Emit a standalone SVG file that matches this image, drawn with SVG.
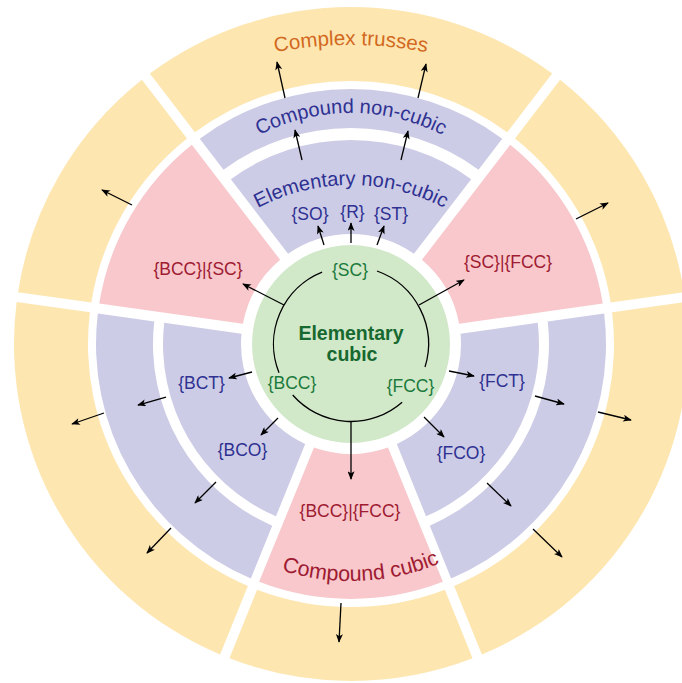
<svg xmlns="http://www.w3.org/2000/svg" width="682" height="683" viewBox="0 0 682 683">
<defs>
<style>
.y{fill:#FDE6B0}
.p{fill:#CDCCE6}
.k{fill:#F8C8CC}
.g{fill:#D1E8C9}
text{font-family:"Liberation Sans",Arial,sans-serif}
.t{font-size:20px}
.l{font-size:17.5px;text-anchor:middle}
.nv{fill:#2E3192}
.rd{fill:#9E1B32}
.gr{fill:#1C7A3C}
.or{fill:#D2691E}
.ar{stroke:#000;stroke-width:1.3;fill:none;marker-end:url(#ah)}
.cy{stroke:#000;stroke-width:1.3;fill:none}
</style>
<marker id="ah" viewBox="0 0 10 8" refX="9" refY="4" markerWidth="9" markerHeight="7" markerUnits="userSpaceOnUse" orient="auto"><path d="M0,0 L10,4 L0,8 L2.5,4 Z" fill="#000"/></marker>
<path id="yT" d="M-201.16,-270.38 A337,337 0 0 1 201.16,-270.38 L156.11,-211.65 A263,263 0 0 0 -156.11,-211.65 Z"/>
<path id="yS" d="M-122.94,-313.77 A337,337 0 0 1 122.94,-313.77 L94.94,-245.27 A263,263 0 0 0 -94.94,-245.27 Z"/>
<path id="yL" d="M-203.50,-268.62 A337,337 0 0 1 203.50,-268.62 L157.95,-210.29 A263,263 0 0 0 -157.95,-210.29 Z"/>
<path id="yB" d="M-121.58,-314.30 A337,337 0 0 1 121.58,-314.30 L93.87,-245.68 A263,263 0 0 0 -93.87,-245.68 Z"/>
<path id="kS" d="M-91.91,-237.86 A255,255 0 0 1 91.91,-237.86 L36.98,-103.60 A110,110 0 0 0 -36.98,-103.60 Z"/>
<path id="pIn" d="M-111.76,-151.17 A188,188 0 0 1 111.76,-151.17 L63.71,-89.67 A110,110 0 0 0 -63.71,-89.67 Z"/>
<path id="pOut" d="M-153.02,-203.98 A255,255 0 0 1 153.02,-203.98 L117.92,-159.05 A198,198 0 0 0 -117.92,-159.05 Z"/>
<path id="arcCT" d="M93.9,138.6 A400,400 0 0 1 608.1,138.6"/>
<path id="arcCN" d="M177.8,213 A200,200 0 0 1 524.2,213"/>
<path id="arcEN" d="M177.8,285 A200,200 0 0 1 524.2,285"/>
<path id="arcCC" d="M151.8,466 A230,230 0 0 0 550.2,466"/>
</defs>

<g id="complex-trusses">
<use href="#yT" class="y" transform="translate(351,344)"/>
<use href="#yS" class="y" transform="translate(351,344) rotate(59.75)"/>
<use href="#yS" class="y" transform="translate(351,344) rotate(-59.75)"/>
<use href="#yL" class="y" transform="translate(351,344) rotate(120)"/>
<use href="#yL" class="y" transform="translate(351,344) rotate(240)"/>
<use href="#yB" class="y" transform="translate(351,344) rotate(180)"/>
<text class="or" font-size="20.5px"><textPath href="#arcCT" startOffset="50%" text-anchor="middle">Complex trusses</textPath></text>
</g>

<g id="compound-non-cubic">
<path class="p" transform="translate(351,344)" d="M-151.24,-205.31 A255,255 0 0 1 151.24,-205.31 L127.49,-174.36 A216,216 0 0 0 -127.49,-174.36 Z"/>
<text class="t nv"><textPath href="#arcCN" startOffset="50%" text-anchor="middle">Compound non-cubic</textPath></text>
</g>

<g id="elementary-non-cubic">
<path class="p" transform="translate(351,344)" d="M-120.19,-164.84 A204,204 0 0 1 120.19,-164.84 L62.93,-90.22 A110,110 0 0 0 -62.93,-90.22 Z"/>
<text class="t nv"><textPath href="#arcEN" startOffset="50%" text-anchor="middle">Elementary non-cubic</textPath></text>
<text class="l nv" x="310" y="220">{SO}</text>
<text class="l nv" x="352.5" y="218">{R}</text>
<text class="l nv" x="391" y="220">{ST}</text>
</g>

<g id="compound-bcc-sc">
<use href="#kS" class="k" transform="translate(351,344) rotate(-59.75)"/>
<text class="l rd" x="198" y="275">{BCC}|{SC}</text>
</g>

<g id="compound-sc-fcc">
<use href="#kS" class="k" transform="translate(351,344) rotate(59.75)"/>
<text class="l rd" x="508" y="268">{SC}|{FCC}</text>
</g>

<g id="compound-cubic">
<use href="#kS" class="k" transform="translate(351,344) rotate(180)"/>
<text class="l rd" x="350" y="517">{BCC}|{FCC}</text>
<text class="rd" font-size="21.5px"><textPath href="#arcCC" startOffset="251" text-anchor="middle">Compound cubic</textPath></text>
</g>

<g id="elementary-bcc-derived">
<use href="#pIn" class="p" transform="translate(351,344) rotate(240)"/>
<text class="l nv" x="201.5" y="389">{BCT}</text>
<text class="l nv" x="242.5" y="456">{BCO}</text>
</g>
<g id="compound-bcc-derived">
<use href="#pOut" class="p" transform="translate(351,344) rotate(240)"/>
</g>

<g id="elementary-fcc-derived">
<use href="#pIn" class="p" transform="translate(351,344) rotate(120)"/>
<text class="l nv" x="502" y="387">{FCT}</text>
<text class="l nv" x="461" y="459">{FCO}</text>
</g>
<g id="compound-fcc-derived">
<use href="#pOut" class="p" transform="translate(351,344) rotate(120)"/>
</g>

<g id="elementary-cubic">
<circle class="g" cx="351" cy="344" r="99"/>
<text x="351" y="340" text-anchor="middle" font-weight="bold" font-size="19.5px" fill="#17692F">Elementary</text>
<text x="352" y="361" text-anchor="middle" font-weight="bold" font-size="19.5px" fill="#17692F">cubic</text>
<text class="l gr" x="350" y="276">{SC}</text>
<text class="l gr" x="292" y="389">{BCC}</text>
<text class="l gr" x="410.5" y="392">{FCC}</text>
</g>

<g id="connectors">
<path class="cy" d="M377.0,271.0 A77.5,77.5 0 0 1 425.0,367.05"/>
<path class="cy" d="M402.15,402.2 A77.5,77.5 0 0 1 292.7,395.05"/>
<path class="cy" d="M279.0,372.65 A77.5,77.5 0 0 1 322.1,272.1"/>
<line class="ar" x1="324" y1="245" x2="318" y2="226"/>
<line class="ar" x1="351" y1="243" x2="351" y2="223"/>
<line class="ar" x1="377" y1="245" x2="384" y2="226"/>
<line class="ar" x1="302" y1="160" x2="295" y2="130"/>
<line class="ar" x1="401" y1="160" x2="408" y2="131"/>
<line class="ar" x1="285" y1="98" x2="277" y2="62"/>
<line class="ar" x1="418" y1="98" x2="426" y2="64"/>
<line class="ar" x1="284" y1="305" x2="243" y2="284"/>
<line class="ar" x1="132" y1="205" x2="102" y2="190"/>
<line class="ar" x1="419" y1="305" x2="464" y2="280"/>
<line class="ar" x1="576" y1="219" x2="608" y2="203"/>
<line class="ar" x1="449" y1="371" x2="474" y2="376"/>
<line class="ar" x1="424" y1="417" x2="444" y2="437"/>
<line class="ar" x1="535" y1="396" x2="564" y2="404"/>
<line class="ar" x1="598" y1="412" x2="631" y2="420"/>
<line class="ar" x1="487" y1="483" x2="511" y2="506"/>
<line class="ar" x1="533" y1="529" x2="562" y2="557"/>
<line class="ar" x1="351" y1="421.5" x2="351" y2="479"/>
<line class="ar" x1="341" y1="603" x2="339" y2="642"/>
<line class="ar" x1="252" y1="372" x2="229" y2="378"/>
<line class="ar" x1="278" y1="418" x2="261" y2="435"/>
<line class="ar" x1="166" y1="397" x2="138" y2="405"/>
<line class="ar" x1="104" y1="413" x2="72" y2="424"/>
<line class="ar" x1="216" y1="482" x2="195" y2="503"/>
<line class="ar" x1="171" y1="528" x2="147" y2="553"/>
</g>
</svg>
